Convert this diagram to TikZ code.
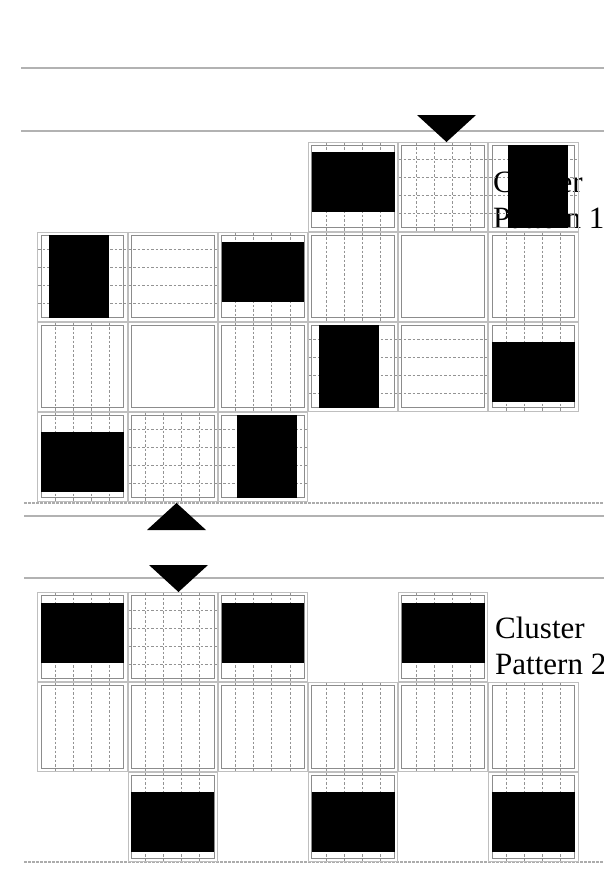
\documentclass[tikz,border=0pt]{standalone}
\usepackage{fontspec}
\setmainfont{Liberation Serif}
\tikzset{
  outerb/.style={draw=gray!50, line width=1pt},
  innerb/.style={draw=gray!90, line width=1pt},
  gridl/.style={draw=gray!85, line width=0.7pt, dash pattern=on 2.5pt off 2pt},
  sepline/.style={draw=gray!60, line width=1.2pt},
  sepdash/.style={draw=gray!65, line width=1.2pt, dash pattern=on 2.5pt off 1.5pt},
  tri/.style={fill=black},
  lbl/.style={font=\fontsize{31}{36}\selectfont, anchor=base west, inner sep=0pt}
}
\newcommand\cfr[2]{\draw[outerb] (#1+0.5,#2+0.5) rectangle (#1+89.7,#2+89.5);
  \draw[innerb] (#1+3.8,#2+3.8) rectangle (#1+86.6,#2+86.4);}
\newcommand\vdl[2]{\foreach \kk in {1,...,4} {\draw[gridl] (#1+18.04*\kk,#2+1) -- (#1+18.04*\kk,#2+89);}}
\newcommand\hdl[2]{\foreach \kk in {1,...,4} {\draw[gridl] (#1+1,#2+18*\kk) -- (#1+89.2,#2+18*\kk);}}
\newcommand\cellE[2]{\cfr{#1}{#2}}
\newcommand\cellV[2]{\cfr{#1}{#2}\vdl{#1}{#2}}
\newcommand\cellH[2]{\cfr{#1}{#2}\hdl{#1}{#2}}
\newcommand\cellG[2]{\cfr{#1}{#2}\vdl{#1}{#2}\hdl{#1}{#2}}
\newcommand\cellHB[3]{\cellV{#1}{#2}\fill[black] (#1+3.8,#2+#3) rectangle (#1+86.6,#2+#3+60);}
\newcommand\cellVB[3]{\cellH{#1}{#2}\fill[black] (#1+#3,#2+3.8) rectangle (#1+#3+60,#2+86.4);}
\begin{document}
\begin{tikzpicture}[x=1pt,y=-1pt]
\useasboundingbox (0,0) rectangle (604,895);
% separator lines
\draw[sepline] (21,68) -- (604,68);
\draw[sepline] (21,131) -- (604,131);
\draw[sepdash] (24,503) -- (604,503);
\draw[sepline] (24,516) -- (604,516);
\draw[sepline] (24,578) -- (604,578);
\draw[sepdash] (24,862) -- (604,862);
% labels
\node[lbl] (l1a) at (493,192) {Cluster};
\node[lbl] (l1b) at (493,228) {Pattern 1};
\node[lbl] (l2a) at (495,638) {Cluster};
\node[lbl] (l2b) at (495,674) {Pattern 2};
% top pattern
% row 0
\cellHB{307.9}{141.5}{10.8}
\cellG{398.1}{141.5}
\cellVB{488.3}{141.5}{19.2}
% row 1
\cellVB{37.3}{231.5}{11.5}
\cellH{127.5}{231.5}
\cellHB{217.7}{231.5}{10.8}
\cellV{307.9}{231.5}
\cellE{398.1}{231.5}
\cellV{488.3}{231.5}
% row 2
\cellV{37.3}{321.5}
\cellE{127.5}{321.5}
\cellV{217.7}{321.5}
\cellVB{307.9}{321.5}{11.2}
\cellH{398.1}{321.5}
\cellHB{488.3}{321.5}{20.2}
% row 3
\cellHB{37.3}{411.5}{20.2}
\cellG{127.5}{411.5}
\cellVB{217.7}{411.5}{19.2}
% bottom pattern
% row 0
\cellHB{37.3}{592}{10.8}
\cellG{127.5}{592}
\cellHB{217.7}{592}{10.8}
\cellHB{398.1}{592}{10.8}
% row 1
\cellV{37.3}{682}
\cellV{127.5}{682}
\cellV{217.7}{682}
\cellV{307.9}{682}
\cellV{398.1}{682}
\cellV{488.3}{682}
% row 2
\cellHB{127.5}{772}{20}
\cellHB{307.9}{772}{20}
\cellHB{488.3}{772}{20}
% triangles
\fill[tri] (417,115) -- (476,115) -- (446.5,142) -- cycle;
\fill[tri] (147,530) -- (206,530) -- (176.5,503) -- cycle;
\fill[tri] (149,565) -- (208,565) -- (178.5,592) -- cycle;
\end{tikzpicture}
\end{document}
